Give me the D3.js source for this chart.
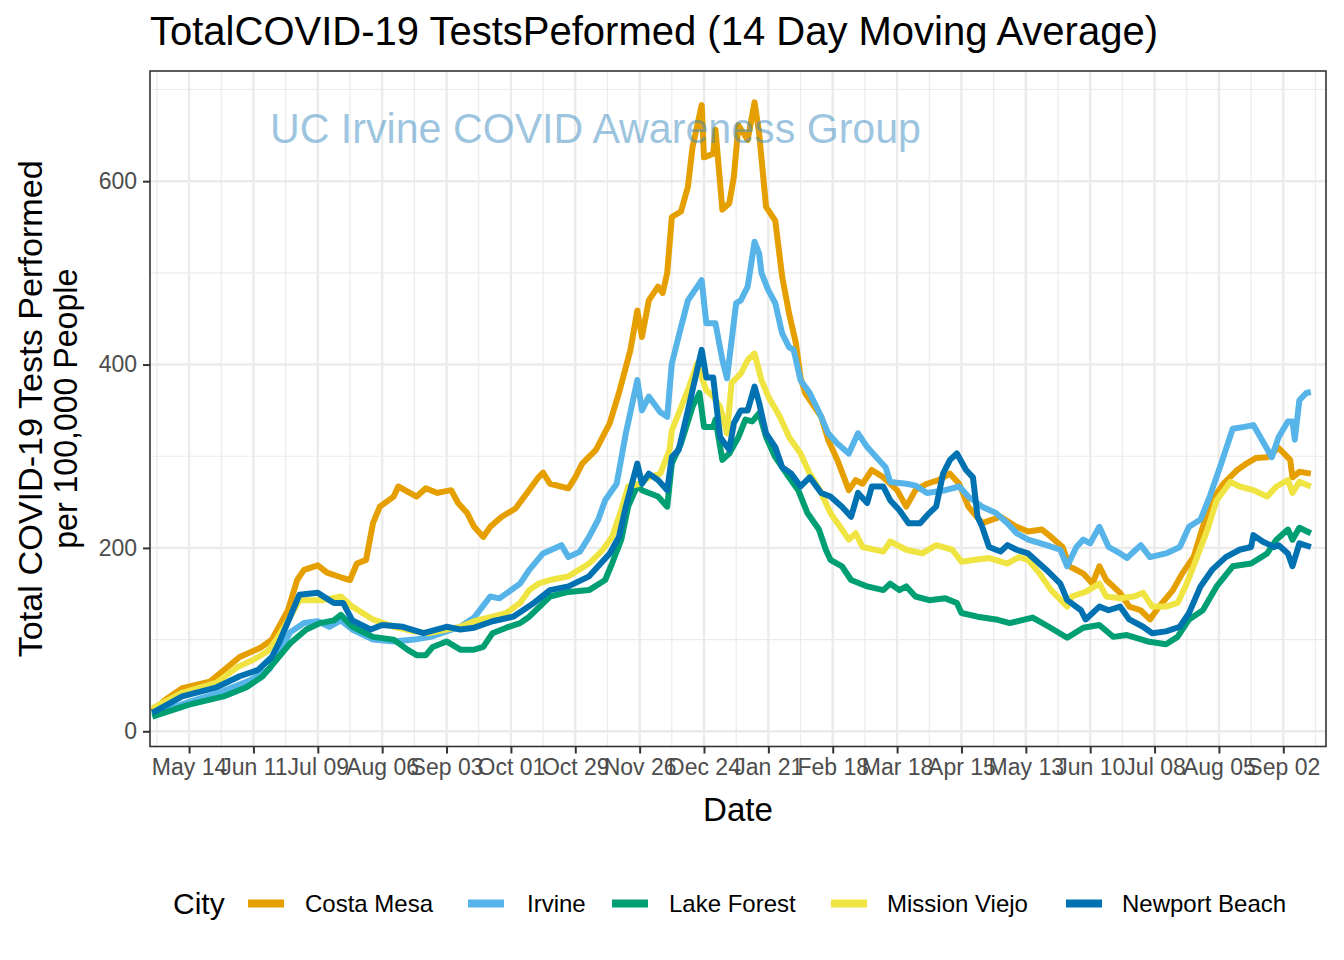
<!DOCTYPE html>
<html>
<head>
<meta charset="utf-8">
<script src="https://cdn.jsdelivr.net/npm/d3@7"></script>
<style>
  html, body { margin: 0; padding: 0; background: #fff; }
  svg text { font-family: "Liberation Sans", Arial, Helvetica, sans-serif; }
</style>
</head>
<body>
<svg id="chart" width="1344" height="960"></svg>
<script>
// ---------------- data ----------------
const cities = ["Costa Mesa", "Irvine", "Lake Forest", "Mission Viejo", "Newport Beach"];
const cityColors = ["#E69F00", "#56B4E9", "#009E73", "#F0E442", "#0072B2"];

const costaMesa = [
  ["2020-04-28",22],["2020-05-04",35],["2020-05-11",47],["2020-05-23",54],["2020-06-05",81],
  ["2020-06-14",91],["2020-06-19",100],["2020-06-26",132],["2020-06-30",165],["2020-07-03",176],
  ["2020-07-09",181],["2020-07-13",173],["2020-07-19",168],["2020-07-23",165],["2020-07-26",183],
  ["2020-07-30",187],["2020-08-02",227],["2020-08-05",245],["2020-08-11",256],["2020-08-13",267],
  ["2020-08-21",256],["2020-08-25",265],["2020-08-30",260],["2020-09-05",263],["2020-09-08",249],
  ["2020-09-12",238],["2020-09-15",223],["2020-09-19",212],["2020-09-22",223],["2020-09-27",234],
  ["2020-10-03",243],["2020-10-08",260],["2020-10-13",277],["2020-10-15",282],["2020-10-18",270],
  ["2020-10-26",265],["2020-10-29",277],["2020-11-01",292],["2020-11-07",307],["2020-11-13",336],
  ["2020-11-17",369],["2020-11-22",416],["2020-11-25",459],["2020-11-27",430],["2020-11-30",470],
  ["2020-12-04",485],["2020-12-06",478],["2020-12-08",500],["2020-12-10",561],["2020-12-14",567],
  ["2020-12-17",594],["2020-12-19",637],["2020-12-23",683],["2020-12-24",626],["2020-12-28",630],
  ["2020-12-29",656],["2021-01-01",569],["2021-01-04",576],["2021-01-06",605],["2021-01-08",661],
  ["2021-01-12",645],["2021-01-15",686],["2021-01-17",652],["2021-01-20",572],["2021-01-24",557],
  ["2021-01-27",496],["2021-01-30",456],["2021-02-02",423],["2021-02-04",386],["2021-02-06",369],
  ["2021-02-13",343],["2021-02-16",318],["2021-02-20",296],["2021-02-25",263],["2021-02-28",274],
  ["2021-03-03",270],["2021-03-07",285],["2021-03-12",277],["2021-03-18",263],["2021-03-22",245],
  ["2021-03-26",263],["2021-03-31",270],["2021-04-05",274],["2021-04-10",281],["2021-04-14",270],
  ["2021-04-18",245],["2021-04-24",227],["2021-05-02",234],["2021-05-09",223],["2021-05-14",218],
  ["2021-05-20",220],["2021-05-24",212],["2021-05-29",201],["2021-06-01",180],["2021-06-07",172],
  ["2021-06-11",161],["2021-06-14",180],["2021-06-17",165],["2021-06-23",151],["2021-06-27",136],
  ["2021-07-02",132],["2021-07-06",122],["2021-07-10",136],["2021-07-16",154],["2021-07-20",172],
  ["2021-07-25",190],["2021-07-29",223],["2021-08-02",252],["2021-08-07",270],["2021-08-13",285],
  ["2021-08-17",292],["2021-08-21",298],["2021-08-26",299],["2021-08-31",309],["2021-09-05",296],
  ["2021-09-06",277],["2021-09-09",283],["2021-09-14",281]
];

const irvine = [
  ["2020-04-28",18],["2020-05-14",32],["2020-05-27",42],["2020-06-09",55],["2020-06-18",68],
  ["2020-06-22",85],["2020-06-27",108],["2020-07-03",118],["2020-07-09",120],["2020-07-14",114],
  ["2020-07-19",121],["2020-07-24",111],["2020-08-02",100],["2020-08-11",98],["2020-08-20",100],
  ["2020-08-27",103],["2020-09-09",114],["2020-09-15",124],["2020-09-22",147],["2020-09-26",145],
  ["2020-10-05",161],["2020-10-09",176],["2020-10-15",194],["2020-10-23",203],["2020-10-26",190],
  ["2020-10-31",196],["2020-11-04",212],["2020-11-08",231],["2020-11-11",252],["2020-11-16",270],
  ["2020-11-20",325],["2020-11-25",383],["2020-11-27",350],["2020-11-30",365],["2020-12-05",348],
  ["2020-12-08",343],["2020-12-10",401],["2020-12-14",441],["2020-12-17",470],["2020-12-23",492],
  ["2020-12-25",445],["2020-12-29",445],["2021-01-01",405],["2021-01-03",385],["2021-01-07",467],
  ["2021-01-09",470],["2021-01-12",485],["2021-01-15",534],["2021-01-17",521],["2021-01-18",500],
  ["2021-01-21",481],["2021-01-24",467],["2021-01-27",434],["2021-01-30",419],["2021-02-01",416],
  ["2021-02-04",383],["2021-02-08",369],["2021-02-13",343],["2021-02-16",325],["2021-02-20",314],
  ["2021-02-25",303],["2021-03-01",325],["2021-03-05",310],["2021-03-09",299],["2021-03-13",288],
  ["2021-03-15",272],["2021-03-22",270],["2021-03-26",268],["2021-03-31",260],["2021-04-08",263],
  ["2021-04-14",267],["2021-04-18",256],["2021-04-24",245],["2021-04-30",238],["2021-05-05",227],
  ["2021-05-09",216],["2021-05-14",209],["2021-05-22",203],["2021-05-28",198],["2021-05-31",180],
  ["2021-06-04",201],["2021-06-07",209],["2021-06-10",205],["2021-06-14",223],["2021-06-18",201],
  ["2021-06-23",194],["2021-06-26",189],["2021-07-02",203],["2021-07-06",190],["2021-07-13",194],
  ["2021-07-19",201],["2021-07-23",223],["2021-07-28",231],["2021-08-01",256],["2021-08-06",292],
  ["2021-08-11",330],["2021-08-16",332],["2021-08-20",334],["2021-08-23",321],["2021-08-28",299],
  ["2021-08-31",321],["2021-09-04",338],["2021-09-06",338],["2021-09-07",318],["2021-09-09",361],
  ["2021-09-12",369],["2021-09-14",370]
];

const lakeForest = [
  ["2020-04-28",16],["2020-05-14",29],["2020-05-29",38],["2020-06-08",48],["2020-06-15",60],
  ["2020-06-21",78],["2020-06-27",96],["2020-07-04",111],["2020-07-10",118],["2020-07-16",121],
  ["2020-07-19",127],["2020-07-24",114],["2020-08-02",103],["2020-08-11",100],["2020-08-17",89],
  ["2020-08-21",83],["2020-08-25",83],["2020-08-28",92],["2020-09-03",98],["2020-09-09",89],
  ["2020-09-15",89],["2020-09-19",92],["2020-09-23",107],["2020-09-29",113],["2020-10-05",118],
  ["2020-10-09",125],["2020-10-18",147],["2020-10-26",152],["2020-11-04",154],["2020-11-11",165],
  ["2020-11-14",183],["2020-11-18",209],["2020-11-21",245],["2020-11-25",268],["2020-11-27",263],
  ["2020-12-04",256],["2020-12-08",245],["2020-12-10",292],["2020-12-14",314],["2020-12-19",354],
  ["2020-12-22",369],["2020-12-24",332],["2020-12-28",332],["2020-12-29",340],["2021-01-01",296],
  ["2021-01-04",303],["2021-01-08",321],["2021-01-11",340],["2021-01-14",338],["2021-01-17",347],
  ["2021-01-20",321],["2021-01-24",299],["2021-01-30",277],["2021-02-03",263],["2021-02-07",238],
  ["2021-02-12",220],["2021-02-15",198],["2021-02-17",187],["2021-02-22",180],["2021-02-26",165],
  ["2021-03-05",158],["2021-03-12",154],["2021-03-15",161],["2021-03-19",154],["2021-03-22",158],
  ["2021-03-26",147],["2021-04-01",143],["2021-04-08",145],["2021-04-13",140],["2021-04-15",129],
  ["2021-04-22",125],["2021-04-30",122],["2021-05-06",118],["2021-05-16",124],["2021-05-23",114],
  ["2021-05-31",102],["2021-06-07",113],["2021-06-14",116],["2021-06-20",103],["2021-06-26",105],
  ["2021-07-05",98],["2021-07-13",95],["2021-07-18",103],["2021-07-23",122],["2021-07-29",132],
  ["2021-08-04",158],["2021-08-11",180],["2021-08-19",183],["2021-08-26",194],["2021-08-30",209],
  ["2021-09-04",220],["2021-09-06",209],["2021-09-09",222],["2021-09-14",216]
];

const missionViejo = [
  ["2020-04-28",25],["2020-05-11",42],["2020-05-26",53],["2020-06-04",70],["2020-06-11",78],
  ["2020-06-17",87],["2020-06-21",100],["2020-06-27",125],["2020-07-01",143],["2020-07-07",143],
  ["2020-07-11",143],["2020-07-19",147],["2020-07-24",136],["2020-08-02",122],["2020-08-11",114],
  ["2020-08-20",109],["2020-08-26",107],["2020-09-03",111],["2020-09-09",114],["2020-09-15",120],
  ["2020-09-23",125],["2020-09-29",129],["2020-10-05",140],["2020-10-09",154],["2020-10-13",161],
  ["2020-10-18",165],["2020-10-26",169],["2020-11-04",183],["2020-11-10",198],["2020-11-14",212],
  ["2020-11-18",241],["2020-11-21",267],["2020-11-26",270],["2020-11-30",277],["2020-12-05",281],
  ["2020-12-09",307],["2020-12-10",328],["2020-12-17",372],["2020-12-21",401],["2020-12-25",372],
  ["2020-12-28",365],["2020-12-31",354],["2021-01-03",325],["2021-01-05",380],["2021-01-09",390],
  ["2021-01-12",405],["2021-01-15",412],["2021-01-18",383],["2021-01-21",365],["2021-01-26",343],
  ["2021-01-30",321],["2021-02-04",303],["2021-02-08",281],["2021-02-13",260],["2021-02-17",238],
  ["2021-02-22",220],["2021-02-25",209],["2021-02-28",216],["2021-03-03",201],["2021-03-12",196],
  ["2021-03-15",207],["2021-03-22",198],["2021-03-29",194],["2021-04-04",203],["2021-04-11",198],
  ["2021-04-15",185],["2021-04-21",187],["2021-04-27",189],["2021-05-05",183],["2021-05-10",190],
  ["2021-05-14",187],["2021-05-19",172],["2021-05-24",154],["2021-05-31",136],["2021-06-02",147],
  ["2021-06-08",152],["2021-06-14",161],["2021-06-17",147],["2021-06-23",145],["2021-06-29",147],
  ["2021-07-03",151],["2021-07-07",136],["2021-07-13",136],["2021-07-18",140],["2021-07-22",161],
  ["2021-07-26",187],["2021-07-31",220],["2021-08-04",252],["2021-08-10",272],["2021-08-14",267],
  ["2021-08-20",263],["2021-08-26",256],["2021-08-30",267],["2021-09-04",274],["2021-09-06",260],
  ["2021-09-09",272],["2021-09-14",267]
];

const newportBeach = [
  ["2020-04-28",20],["2020-05-11",38],["2020-05-26",48],["2020-06-05",60],["2020-06-13",67],
  ["2020-06-19",81],["2020-06-22",96],["2020-06-27",125],["2020-07-01",149],["2020-07-09",151],
  ["2020-07-16",140],["2020-07-20",140],["2020-07-24",121],["2020-08-01",111],["2020-08-06",116],
  ["2020-08-15",114],["2020-08-24",107],["2020-09-03",114],["2020-09-09",111],["2020-09-15",113],
  ["2020-09-23",120],["2020-10-02",125],["2020-10-11",140],["2020-10-18",154],["2020-10-26",158],
  ["2020-11-04",169],["2020-11-13",194],["2020-11-17",212],["2020-11-20",245],["2020-11-25",292],
  ["2020-11-27",270],["2020-11-30",281],["2020-12-04",274],["2020-12-08",263],["2020-12-10",299],
  ["2020-12-13",307],["2020-12-17",350],["2020-12-23",416],["2020-12-25",386],["2020-12-28",386],
  ["2020-12-31",321],["2021-01-04",307],["2021-01-06",336],["2021-01-09",350],["2021-01-12",350],
  ["2021-01-15",376],["2021-01-17",358],["2021-01-20",325],["2021-01-24",310],["2021-01-27",288],
  ["2021-01-31",281],["2021-02-04",267],["2021-02-08",277],["2021-02-13",260],["2021-02-17",256],
  ["2021-02-22",245],["2021-02-26",234],["2021-03-01",260],["2021-03-05",249],["2021-03-07",267],
  ["2021-03-12",267],["2021-03-15",252],["2021-03-19",241],["2021-03-23",227],["2021-03-28",227],
  ["2021-04-01",238],["2021-04-04",245],["2021-04-07",281],["2021-04-10",296],["2021-04-13",303],
  ["2021-04-17",285],["2021-04-20",277],["2021-04-22",234],["2021-04-24",223],["2021-04-27",201],
  ["2021-05-02",196],["2021-05-05",203],["2021-05-09",198],["2021-05-14",194],["2021-05-22",176],
  ["2021-05-28",161],["2021-05-31",143],["2021-06-06",132],["2021-06-08",122],["2021-06-14",136],
  ["2021-06-18",132],["2021-06-23",136],["2021-06-27",122],["2021-07-03",114],["2021-07-07",107],
  ["2021-07-13",109],["2021-07-19",114],["2021-07-23",129],["2021-07-28",158],["2021-08-02",176],
  ["2021-08-08",190],["2021-08-14",198],["2021-08-19",201],["2021-08-20",214],["2021-08-24",207],
  ["2021-08-29",201],["2021-08-31",203],["2021-09-04",194],["2021-09-06",180],["2021-09-09",205],
  ["2021-09-14",201]
];

const seriesValues = [costaMesa, irvine, lakeForest, missionViejo, newportBeach];

const xTickDates = ["2020-05-14","2020-06-11","2020-07-09","2020-08-06","2020-09-03","2020-10-01",
  "2020-10-29","2020-11-26","2020-12-24","2021-01-21","2021-02-18","2021-03-18","2021-04-15",
  "2021-05-13","2021-06-10","2021-07-08","2021-08-05","2021-09-02"];
const yTicks = [0, 200, 400, 600];
const yMinorTicks = [100, 300, 500, 700];
const xLimits = ["2020-04-27T00:00:00Z", "2021-09-20T14:00:00Z"];
const yLimits = [-16.6, 720.2];

const titleText = "TotalCOVID-19  TestsPeformed (14 Day Moving Average)";
const watermarkText = "UC Irvine COVID Awareness Group";
const xTitle = "Date";
const yTitleLines = ["Total COVID-19 Tests Performed", "per 100,000 People"];
const legendTitle = "City";

// ---------------- drawing ----------------
const svg = d3.select("#chart");
const panel = { left: 150, right: 1326, top: 71, bottom: 746.5 };

const parse = d3.utcParse("%Y-%m-%d");
const x = d3.scaleUtc()
  .domain(xLimits.map(s => new Date(s)))
  .range([panel.left, panel.right]);
const y = d3.scaleLinear().domain(yLimits).range([panel.bottom, panel.top]);

svg.append("rect").attr("width", 1344).attr("height", 960).attr("fill", "#fff");

// grid
const grid = svg.append("g");
const majorX = xTickDates.map(parse);
const minorX = [];
const dayMs = 86400000;
minorX.push(new Date(majorX[0].getTime() - 14 * dayMs));
majorX.forEach(d => minorX.push(new Date(d.getTime() + 14 * dayMs)));

grid.selectAll(".ymin").data(yMinorTicks).join("line")
  .attr("x1", panel.left).attr("x2", panel.right)
  .attr("y1", d => y(d)).attr("y2", d => y(d))
  .attr("stroke", "#EBEBEB").attr("stroke-width", 1.2);
grid.selectAll(".xmin").data(minorX.filter(d => x(d) > panel.left && x(d) < panel.right)).join("line")
  .attr("x1", d => x(d)).attr("x2", d => x(d))
  .attr("y1", panel.top).attr("y2", panel.bottom)
  .attr("stroke", "#EBEBEB").attr("stroke-width", 1.2);
grid.selectAll(".ymaj").data(yTicks).join("line")
  .attr("x1", panel.left).attr("x2", panel.right)
  .attr("y1", d => y(d)).attr("y2", d => y(d))
  .attr("stroke", "#EBEBEB").attr("stroke-width", 2.4);
grid.selectAll(".xmaj").data(majorX).join("line")
  .attr("x1", d => x(d)).attr("x2", d => x(d))
  .attr("y1", panel.top).attr("y2", panel.bottom)
  .attr("stroke", "#EBEBEB").attr("stroke-width", 2.4);

// lines
const line = d3.line()
  .x(d => x(parse(d[0])))
  .y(d => y(d[1]));

svg.append("clipPath").attr("id", "clip").append("rect")
  .attr("x", panel.left).attr("y", panel.top)
  .attr("width", panel.right - panel.left).attr("height", panel.bottom - panel.top);

svg.append("g").attr("clip-path", "url(#clip)")
  .selectAll("path").data(seriesValues).join("path")
  .attr("d", line)
  .attr("fill", "none")
  .attr("stroke", (d, i) => cityColors[i])
  .attr("stroke-width", 6)
  .attr("stroke-linejoin", "round")
  .attr("stroke-linecap", "butt");

// watermark
svg.append("text")
  .attr("x", 270).attr("y", 143)
  .attr("font-size", 43)
  .attr("textLength", 651).attr("lengthAdjust", "spacingAndGlyphs")
  .attr("fill", "#3b8bc2").attr("fill-opacity", 0.5)
  .text(watermarkText);

// panel border
svg.append("rect")
  .attr("x", panel.left).attr("y", panel.top)
  .attr("width", panel.right - panel.left).attr("height", panel.bottom - panel.top)
  .attr("fill", "none").attr("stroke", "#333333").attr("stroke-width", 1.6);

// axes
const xAxis = d3.axisBottom(x).tickValues(majorX).tickFormat(d3.utcFormat("%b %d"))
  .tickSize(7).tickPadding(5);
const gx = svg.append("g").attr("transform", `translate(0,${panel.bottom})`).call(xAxis);
gx.select(".domain").remove();
gx.selectAll(".tick line").attr("stroke", "#333333").attr("stroke-width", 2);
gx.selectAll(".tick text").attr("fill", "#4D4D4D").attr("font-size", 23)
  .attr("font-family", "Liberation Sans, Arial, sans-serif");

const yAxis = d3.axisLeft(y).tickValues(yTicks).tickSize(7).tickPadding(6);
const gy = svg.append("g").attr("transform", `translate(${panel.left},0)`).call(yAxis);
gy.select(".domain").remove();
gy.selectAll(".tick line").attr("stroke", "#333333").attr("stroke-width", 2);
gy.selectAll(".tick text").attr("fill", "#4D4D4D").attr("font-size", 23)
  .attr("font-family", "Liberation Sans, Arial, sans-serif");

// title
svg.append("text")
  .attr("x", 150).attr("y", 45)
  .attr("font-size", 41)
  .attr("textLength", 1008).attr("lengthAdjust", "spacingAndGlyphs")
  .attr("fill", "#000")
  .text(titleText);

// x title
svg.append("text")
  .attr("x", (panel.left + panel.right) / 2).attr("y", 821)
  .attr("text-anchor", "middle").attr("font-size", 33)
  .attr("textLength", 70).attr("lengthAdjust", "spacingAndGlyphs")
  .attr("fill", "#000").text(xTitle);

// y title
const yt = svg.append("text")
  .attr("transform", `translate(0,${(panel.top + panel.bottom) / 2}) rotate(-90)`)
  .attr("text-anchor", "middle").attr("font-size", 33).attr("fill", "#000");
yt.append("tspan").attr("x", 0).attr("y", 42)
  .attr("textLength", 497).attr("lengthAdjust", "spacingAndGlyphs").text(yTitleLines[0]);
yt.append("tspan").attr("x", 0).attr("y", 77)
  .attr("textLength", 280).attr("lengthAdjust", "spacingAndGlyphs").text(yTitleLines[1]);

// legend
const legendKeyX = [248, 468, 612, 831, 1066];
const legendLabelX = [305, 527, 669, 887, 1122];
const legendY = 903.5;
svg.append("text").attr("x", 173).attr("y", 914).attr("font-size", 30).attr("fill", "#000").text(legendTitle);
const lg = svg.append("g");
cities.forEach((c, i) => {
  lg.append("line")
    .attr("x1", legendKeyX[i]).attr("x2", legendKeyX[i] + 36)
    .attr("y1", legendY).attr("y2", legendY)
    .attr("stroke", cityColors[i]).attr("stroke-width", 8);
  lg.append("text").attr("x", legendLabelX[i]).attr("y", 912)
    .attr("font-size", 24).attr("fill", "#000").text(c);
});
</script>
</body>
</html>
